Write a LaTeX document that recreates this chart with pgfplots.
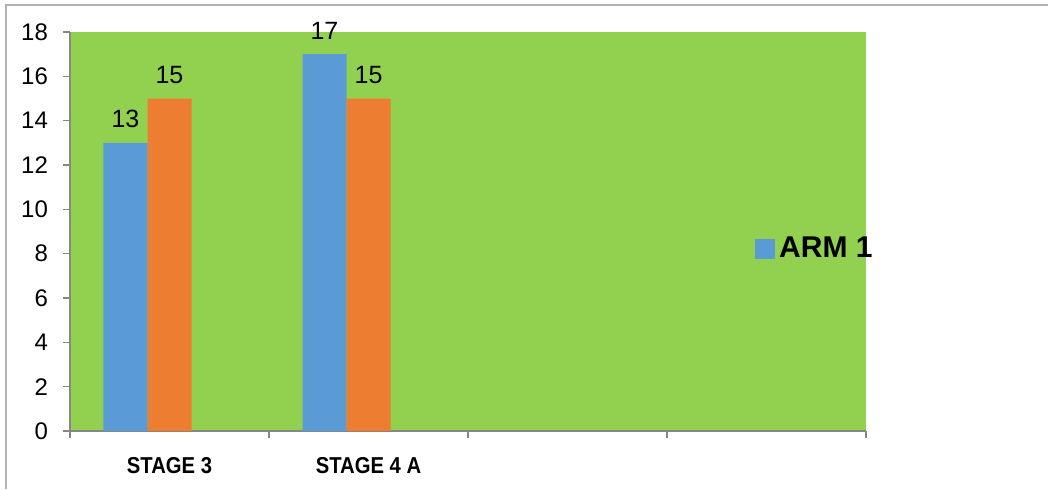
\documentclass[border=0pt]{standalone}
\usepackage{fontspec}
\setmainfont{Liberation Sans}
\newfontfamily\narrowfont{Liberation Sans}[FakeStretch=0.88]
\usepackage{pgfplots}
\pgfplotsset{compat=1.18}
\definecolor{bg}{HTML}{92D050}
\definecolor{cblue}{HTML}{5B9BD5}
\definecolor{corange}{HTML}{ED7D31}
\definecolor{axgray}{HTML}{868686}
\begin{document}
\begin{tikzpicture}
\useasboundingbox (0pt,0pt) rectangle (524pt,244.5pt);
\draw[black!30, line width=1pt] (3pt,0pt) -- (3pt,242pt) -- (524pt,242pt);
\begin{axis}[at={(35pt,29pt)}, anchor=south west,
  width=398pt, height=199.5pt, scale only axis,
  ybar=0pt, bar width=22pt,
  xmin=-0.5, xmax=3.5, ymin=0, ymax=18,
  enlargelimits=false,
  ytick={0,2,...,18},
  xtick={0,1}, xticklabels={STAGE 3, STAGE 4 A},
  minor xtick={-0.5,0.5,1.5,2.5,3.5},
  axis lines=left, axis line style={-, axgray, line width=1pt},
  major x tick style={draw=none},
  tick align=outside, major tick length=3.5pt, minor tick length=3.5pt,
  tick style={axgray, line width=0.8pt},
  axis background/.style={fill=bg},
  clip=false,
  /pgf/number format/assume math mode=true,
  yticklabel style={font=\fontsize{12}{14}\selectfont, xshift=-4pt},
  xticklabel style={font=\narrowfont\bfseries\fontsize{11.5}{13}\selectfont, yshift=-6pt},
  nodes near coords,
  nodes near coords style={font=\fontsize{12.5}{14}\selectfont, black, yshift=4pt},
  legend style={at={(axis description cs:0.937,0.456)}, anchor=center, draw=none, fill=none,
    font=\bfseries\fontsize{15}{17}\selectfont},
]
\addplot[fill=cblue, draw=none, bar shift=-22pt,
  legend image code/.code={\fill[cblue] (0pt,-5pt) rectangle (10pt,5pt);}]
  coordinates {(0,13) (1,17)};
\addlegendentry{ARM 1}
\addplot[fill=corange, draw=none, bar shift=0pt] coordinates {(0,15) (1,15)};
\end{axis}
\end{tikzpicture}
\end{document}
